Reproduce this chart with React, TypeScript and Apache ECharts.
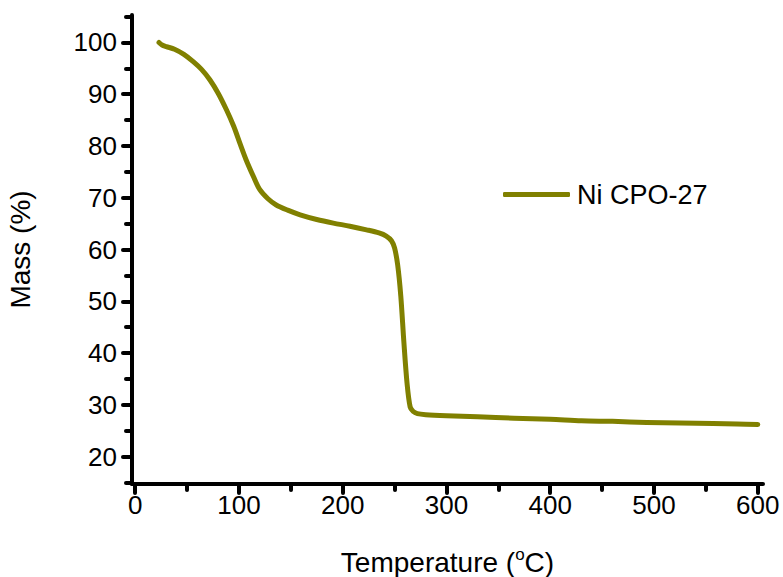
import React, { useEffect, useRef } from "react";
import * as echarts from "echarts";

const temperature = [23, 26, 30, 38, 47, 56, 64, 72, 80, 88, 95, 101, 107, 114, 120, 128, 136, 147, 159, 175, 191, 207, 223, 235, 242, 247, 250, 253, 256, 259, 262, 265, 268, 272, 280, 300, 330, 365, 400, 430, 460, 493, 525, 557, 580, 600];
const mass = [100, 99.5, 99.2, 98.7, 97.7, 96.3, 94.8, 92.8, 90.2, 87, 83.8, 80.5, 77.3, 74.1, 71.6, 69.8, 68.6, 67.6, 66.7, 65.8, 65.1, 64.5, 63.8, 63.2, 62.6, 61.7, 60.3, 57, 51, 42, 34.2, 29.6, 28.7, 28.3, 28.1, 27.9, 27.7, 27.4, 27.2, 26.9, 26.8, 26.6, 26.5, 26.4, 26.3, 26.2];
const xMajorTicks = [0, 100, 200, 300, 400, 500, 600];
const xMinorTicks = [50, 150, 250, 350, 450, 550];
const yMajorTicks = [20, 30, 40, 50, 60, 70, 80, 90, 100];
const yMinorTicks = [15, 25, 35, 45, 55, 65, 75, 85, 95, 105];
const seriesName = "Ni CPO-27";

const FONT = "'Liberation Sans', Arial, sans-serif";
const COLOR = "#808000";
const FS = 26;
const NAME_FS = 28;

export default function App() {
  const ref = useRef<HTMLDivElement>(null);
  useEffect(() => {
    if (!ref.current) return;
    const chart = echarts.init(ref.current, null, { renderer: "svg" });
    const mkLine = () => ({ show: true, onZero: false, lineStyle: { color: "#000", width: 4 } });
    const majorTick = (vals: number[]) => ({ show: true, inside: false, length: 9, customValues: vals, lineStyle: { color: "#000", width: 4, cap: "round" } });
    const minorTick = (vals: number[]) => ({ show: true, inside: false, length: 6, customValues: vals, lineStyle: { color: "#000", width: 4, cap: "round" } });
    chart.setOption({
      animation: false,
      backgroundColor: "#fff",
      textStyle: { fontFamily: FONT },
      grid: { left: 132, right: 20, top: 15, bottom: 93, containLabel: false, outerBoundsMode: "none" },
      legend: {
        left: 503,
        top: 181,
        padding: 0,
        icon: "roundRect",
        itemWidth: 67,
        itemHeight: 5,
        textStyle: { fontFamily: FONT, fontSize: 27, color: "#000", padding: [0, 0, 0, 2] },
        data: [seriesName],
      },
      xAxis: [
        {
          type: "value",
          min: -3,
          max: 605,
          position: "bottom",
          axisLine: mkLine(),
          axisTick: majorTick(xMajorTicks),
          splitLine: { show: false },
          axisLabel: { customValues: xMajorTicks, fontFamily: FONT, fontSize: FS, color: "#000", margin: 8 },
          name: "Temperature ({sup|o}C)",
          nameLocation: "middle",
          nameGap: 62,
          nameTextStyle: {
            fontFamily: FONT,
            fontSize: NAME_FS,
            color: "#000",
            rich: { sup: { fontFamily: FONT, fontSize: 17, color: "#000", padding: [0, 0, 15, 0] } },
          },
        },
        {
          type: "value",
          min: -3,
          max: 605,
          position: "bottom",
          axisLine: { show: false, onZero: false },
          axisTick: minorTick(xMinorTicks),
          axisLabel: { show: false },
          splitLine: { show: false },
        },
      ],
      yAxis: [
        {
          type: "value",
          min: 14.7,
          max: 105.3,
          position: "left",
          axisLine: mkLine(),
          axisTick: majorTick(yMajorTicks),
          splitLine: { show: false },
          axisLabel: { customValues: yMajorTicks, fontFamily: FONT, fontSize: FS, color: "#000", margin: 15 },
          name: "Mass (%)",
          nameLocation: "middle",
          nameGap: 98,
          nameTextStyle: { fontFamily: FONT, fontSize: NAME_FS, color: "#000" },
        },
        {
          type: "value",
          min: 14.7,
          max: 105.3,
          position: "left",
          axisLine: { show: false, onZero: false },
          axisTick: minorTick(yMinorTicks),
          axisLabel: { show: false },
          splitLine: { show: false },
        },
      ],
      series: [
        {
          name: seriesName,
          type: "line",
          xAxisIndex: 0,
          yAxisIndex: 0,
          data: temperature.map((t, i) => [t, mass[i]]),
          showSymbol: false,
          smooth: 0.3,
          lineStyle: { color: COLOR, width: 5, cap: "round", join: "round" },
          itemStyle: { color: COLOR },
        },
      ],
    });
    return () => chart.dispose();
  }, []);
  return <div ref={ref} style={{ position: "fixed", left: 0, top: 0, width: 783, height: 577 }} />;
}
